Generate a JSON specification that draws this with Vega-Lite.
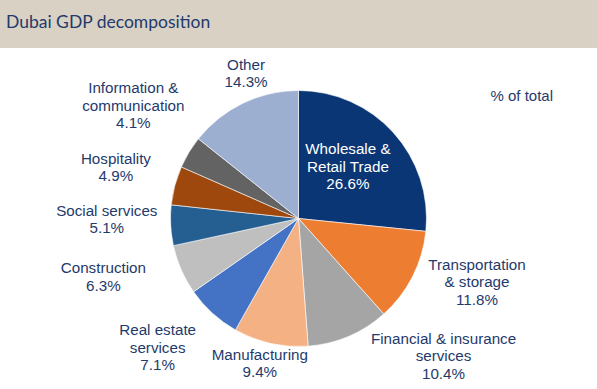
{
  "$schema": "https://vega.github.io/schema/vega-lite/v6.json",
  "padding": 0,
  "background": "white",
  "spacing": 0,
  "config": {
    "view": {"stroke": null},
    "concat": {"spacing": 0},
    "text": {"font": "Liberation Sans", "fontSize": 15.2, "lineBreak": "\n", "lineHeight": 17.5, "align": "center", "baseline": "middle", "color": "#1f3a6b"}
  },
  "vconcat": [
    {
      "width": 597,
      "height": 48,
      "view": {"fill": "#d9d1c4", "stroke": null},
      "data": {"values": [{"t": "Dubai GDP decomposition"}]},
      "mark": {"type": "text", "align": "left", "baseline": "alphabetic", "font": "Lato", "fontSize": 17.5, "color": "#1f3a6b", "dx": 6},
      "encoding": {
        "text": {"field": "t"},
        "x": {"datum": 0, "type": "quantitative", "scale": {"domain": [0, 1]}, "axis": null},
        "y": {"datum": 0.42, "type": "quantitative", "scale": {"domain": [0, 1]}, "axis": null}
      }
    },
    {
      "width": 597,
      "height": 341,
      "title": {"text": "% of total", "anchor": "end", "frame": "group", "orient": "top", "offset": -56, "dx": -44, "fontSize": 15, "font": "Liberation Sans", "fontWeight": "normal", "color": "#1f3a6b"},
      "data": {"values": [
        {"sector": "Wholesale & Retail Trade", "label": "Wholesale &\nRetail Trade", "share": 26.6},
        {"sector": "Transportation & storage", "label": "Transportation\n& storage", "share": 11.8},
        {"sector": "Financial & insurance services", "label": "Financial & insurance\nservices", "share": 10.4},
        {"sector": "Manufacturing", "label": "Manufacturing", "share": 9.4},
        {"sector": "Real estate services", "label": "Real estate\nservices", "share": 7.1},
        {"sector": "Construction", "label": "Construction", "share": 6.3},
        {"sector": "Social services", "label": "Social services", "share": 5.1},
        {"sector": "Hospitality", "label": "Hospitality", "share": 4.9},
        {"sector": "Information & communication", "label": "Information &\ncommunication", "share": 4.1},
        {"sector": "Other", "label": "Other", "share": 14.3}
      ]},
      "transform": [
        {"window": [{"op": "row_number", "as": "i"}]},
        {"stack": "share", "groupby": [], "sort": [{"field": "i", "order": "ascending"}], "as": ["s0", "s1"]},
        {"calculate": "(datum.s0 + datum.s1) / 2", "as": "mid"},
        {"calculate": "datum.label + '\\n' + format(datum.share, '.1f') + '%'", "as": "txt"}
      ],
      "encoding": {
        "theta": {"field": "mid", "type": "quantitative", "stack": null, "scale": {"domain": [0, 100]}},
        "text": {"field": "txt"}
      },
      "layer": [
        {
          "mark": {"type": "arc", "outerRadius": 128, "stroke": "white", "strokeWidth": 0.6},
          "encoding": {
            "theta": {"field": "s0", "type": "quantitative", "stack": null, "scale": {"domain": [0, 100]}},
            "theta2": {"field": "s1"},
            "text": null,
            "color": {
              "field": "sector", "type": "nominal", "legend": null,
              "scale": {
                "domain": ["Wholesale & Retail Trade", "Transportation & storage", "Financial & insurance services", "Manufacturing", "Real estate services", "Construction", "Social services", "Hospitality", "Information & communication", "Other"],
                "range": ["#0b3675", "#ed7d31", "#a5a5a5", "#f4b183", "#4472c4", "#bfbfbf", "#255e91", "#9e480e", "#636363", "#9dafd1"]
              }
            }
          }
        },
        {"transform": [{"filter": "datum.sector === 'Wholesale & Retail Trade'"}], "mark": {"type": "text", "radius": 72, "dx": -4, "dy": -21, "color": "white"}},
        {"transform": [{"filter": "datum.sector === 'Transportation & storage'"}], "mark": {"type": "text", "radius": 188, "dx": 11, "dy": -39}},
        {"transform": [{"filter": "datum.sector === 'Financial & insurance services'"}], "mark": {"type": "text", "radius": 184, "dx": 73, "dy": -49}},
        {"transform": [{"filter": "datum.sector === 'Manufacturing'"}], "mark": {"type": "text", "radius": 150, "dx": -6, "dy": -10}},
        {"transform": [{"filter": "datum.sector === 'Real estate services'"}], "mark": {"type": "text", "radius": 190, "dx": -13, "dy": -29}},
        {"transform": [{"filter": "datum.sector === 'Construction'"}], "mark": {"type": "text", "radius": 202, "dx": -10, "dy": -31}},
        {"transform": [{"filter": "datum.sector === 'Social services'"}], "mark": {"type": "text", "radius": 191, "dx": -1, "dy": -18}},
        {"transform": [{"filter": "datum.sector === 'Hospitality'"}], "mark": {"type": "text", "radius": 190, "dx": 1, "dy": -11}},
        {"transform": [{"filter": "datum.sector === 'Information & communication'"}], "mark": {"type": "text", "radius": 200, "dx": 6, "dy": -27}},
        {"transform": [{"filter": "datum.sector === 'Other'"}], "mark": {"type": "text", "radius": 153, "dx": 14, "dy": -16}}
      ]
    }
  ]
}
